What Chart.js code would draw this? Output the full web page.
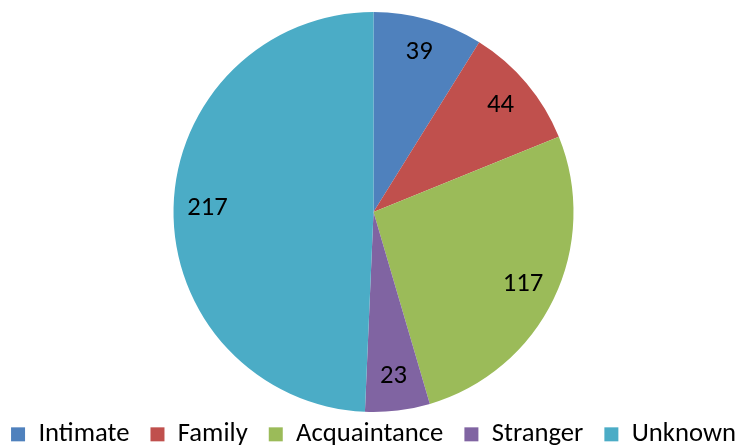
<!DOCTYPE html>
<html>
<head>
<meta charset="utf-8">
<script src="https://cdn.jsdelivr.net/npm/chart.js@4"></script>
<style>
  html, body { margin: 0; padding: 0; background: #fff; }
  #wrap { width: 747px; height: 447px; position: relative; }
</style>
</head>
<body>
<div id="wrap"><canvas id="pieChart"></canvas></div>
<script>
const categories = ['Intimate', 'Family', 'Acquaintance', 'Stranger', 'Unknown'];
const counts = [39, 44, 117, 23, 217];
const colors = ['#4F81BD', '#C0504D', '#9BBB59', '#8064A2', '#4BACC6'];

const FONT = "Carlito, 'Liberation Sans Narrow', 'Open Sans', sans-serif";

// Draw value labels inside the slices
const sliceLabels = {
    id: 'sliceLabels',
    afterDatasetsDraw(chart) {
        const ctx = chart.ctx;
        const meta = chart.getDatasetMeta(0);
        ctx.save();
        ctx.fillStyle = '#000';
        ctx.font = `26.67px ${FONT}`;
        ctx.textAlign = 'center';
        ctx.textBaseline = 'middle';
        meta.data.forEach((arc, i) => {
            const p = arc.getProps(['x', 'y', 'startAngle', 'endAngle', 'outerRadius'], true);
            const mid = (p.startAngle + p.endAngle) / 2;
            const r = p.outerRadius * 0.83;
            ctx.fillText(String(counts[i]), p.x + Math.cos(mid) * r, p.y + Math.sin(mid) * r);
        });
        ctx.restore();
    }
};

new Chart(document.getElementById('pieChart'), {
    type: 'pie',
    data: {
        labels: categories,
        datasets: [{
            data: counts,
            backgroundColor: colors,
            borderWidth: 0
        }]
    },
    options: {
        responsive: true,
        maintainAspectRatio: false,
        animation: false,
        layout: { padding: { top: 12, bottom: 0 } },
        plugins: {
            tooltip: { enabled: false },
            legend: {
                position: 'bottom',
                maxHeight: 35,
                labels: {
                    color: '#000',
                    font: { family: FONT, size: 26.67 },
                    boxWidth: 14,
                    boxHeight: 14,
                    padding: 9,
                    // a bit more room between legend entries
                    generateLabels(chart) {
                        const items = Chart.overrides.pie.plugins.legend.labels.generateLabels(chart);
                        items.forEach((it, i) => {
                            if (i < items.length - 1) it.text = it.text + '  ';
                        });
                        return items;
                    }
                }
            }
        }
    },
    plugins: [sliceLabels]
});
</script>
</body>
</html>
